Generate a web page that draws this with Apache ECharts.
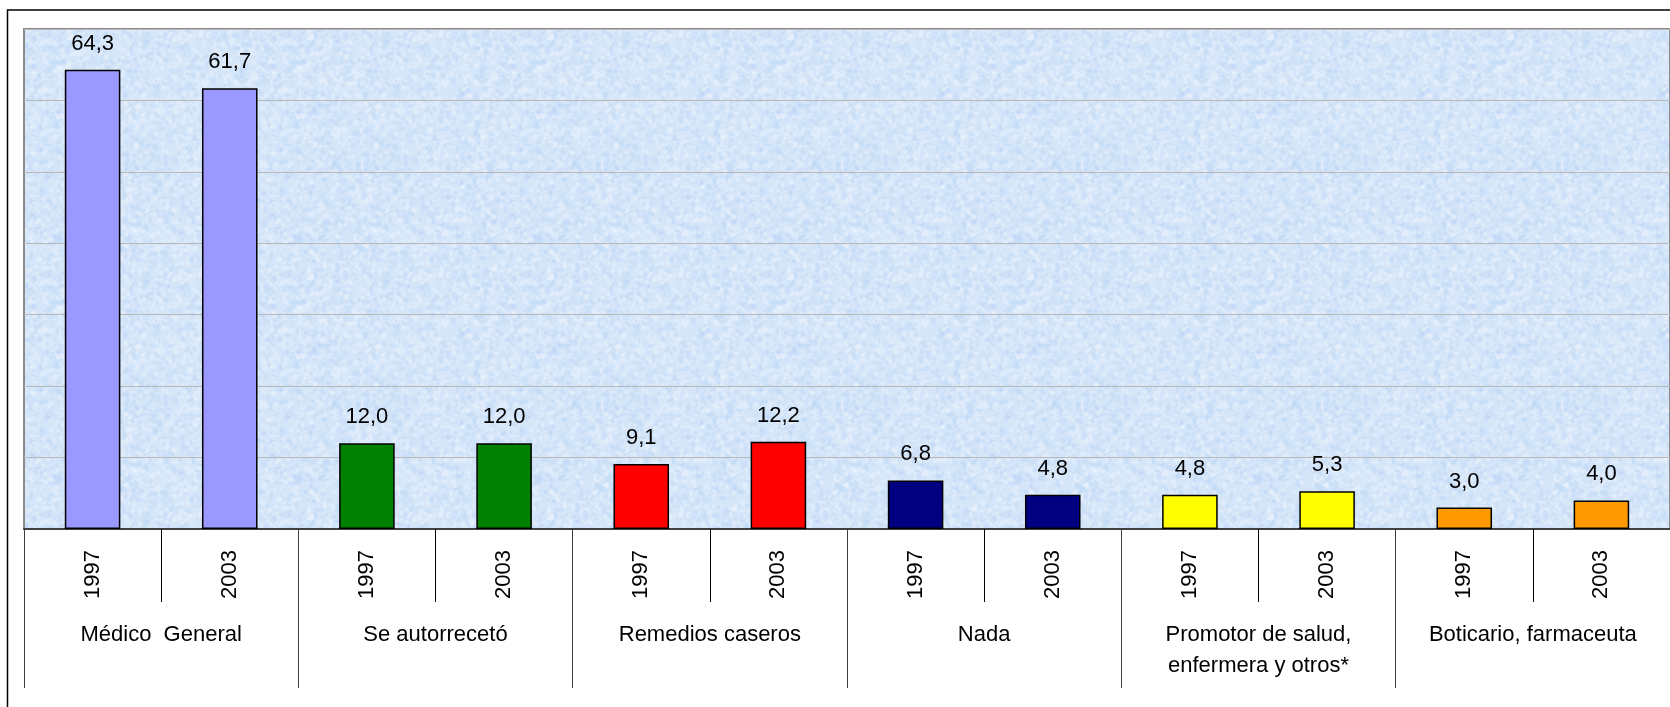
<!DOCTYPE html>
<html>
<head>
<meta charset="utf-8">
<script src="https://cdn.jsdelivr.net/npm/echarts@6/dist/echarts.min.js"></script>
<style>
    html,body{
        margin: 0;
        padding: 0;
        background: #fff;
    }
    #chart{
        width: 1670px;
        height: 707px;
    }
</style>
</head>
<body>
<div id="chart"></div>
<script>
// categorias y años
var groups = ['Médico  General', 'Se autorrecetó', 'Remedios caseros', 'Nada', 'Promotor de salud,\nenfermera y otros*', 'Boticario, farmaceuta']
var years = ['1997', '2003']
var values1997 = [64.3, 12.0, 9.1, 6.8, 4.8, 3.0]
var values2003 = [61.7, 12.0, 12.2, 4.8, 5.3, 4.0]
var colors = ['#9999ff', '#008000', '#ff0000', '#000080', '#ffff00', '#ff9900']

var font = "'Liberation Sans', Arial, sans-serif"

var yearLabels = [], barData = []
groups.forEach(function(g, i){
    yearLabels.push(years[0], years[1])
    barData.push({ value: values1997[i], itemStyle: { color: colors[i] } })
    barData.push({ value: values2003[i], itemStyle: { color: colors[i] } })
})

// fondo tipo papel azul (solo decoracion)
function makeTexture(){
    var size = 240
    var c = document.createElement('canvas')
    c.width = size
    c.height = size
    var ctx = c.getContext('2d')
    ctx.fillStyle = '#d5e6f9'
    ctx.fillRect(0, 0, size, size)
    var seed = 4321
    var rnd = function(){
        seed = (seed * 1103515245 + 12345) % 2147483648
        return seed / 2147483648
    }
    for(var k = 0; k < 5000; k++){
        var x = rnd() * size, y = rnd() * size, r = 0.8 + rnd() * 2.2
        ctx.fillStyle = k % 2 === 0 ? 'rgba(190,215,245,0.35)' : 'rgba(238,243,252,0.35)'
        for(var dx = -size; dx <= size; dx += size){
            for(var dy = -size; dy <= size; dy += size){
                ctx.beginPath()
                ctx.arc(x + dx, y + dy, r, 0, Math.PI * 2)
                ctx.fill()
            }
        }
    }
    return c
}

var myChart = echarts.init(document.getElementById('chart'))
var option = {
    animation: false,
    grid: {
        left: 24,
        right: -14,
        top: 29,
        bottom: 178,
        show: true,
        backgroundColor: { image: makeTexture(), repeat: 'repeat' },
        borderColor: '#8a8a8a',
        borderWidth: 2
    },
    graphic: [{
        type: 'rect',
        shape: { x: 7.5, y: 10, width: 2000, height: 1000 },
        style: { fill: 'none', stroke: '#000', lineWidth: 1.5 },
        z: 100
    }],
    xAxis: [{
        type: 'category',
        data: yearLabels,
        position: 'bottom',
        axisLine: {
            show: true,
            lineStyle: { color: '#404040', width: 2 }
        },
        axisTick: {
            show: true,
            interval: 0,
            length: 73,
            lineStyle: { color: '#000', width: 1 }
        },
        axisLabel: {
            interval: 0,
            rotate: 90,
            margin: 21,
            fontSize: 22,
            fontFamily: font,
            color: '#000'
        }
    }, {
        type: 'category',
        data: groups,
        position: 'bottom',
        axisLine: { show: false },
        axisTick: {
            show: true,
            interval: 0,
            length: 159,
            lineStyle: { color: '#404040', width: 1 }
        },
        axisLabel: {
            interval: 0,
            margin: 90,
            fontSize: 22,
            lineHeight: 31,
            fontFamily: font,
            color: '#000'
        }
    }],
    yAxis: {
        type: 'value',
        min: 0,
        max: 70,
        interval: 10,
        axisLabel: { show: false },
        axisLine: { show: false },
        axisTick: { show: false },
        splitLine: {
            show: true,
            lineStyle: { color: '#b8b8b8', width: 1 }
        }
    },
    series: [{
        type: 'bar',
        xAxisIndex: 0,
        data: barData,
        barWidth: '40.5%',
        itemStyle: {
            borderColor: '#000',
            borderWidth: 1.5
        },
        label: {
            show: true,
            position: 'top',
            distance: 15,
            fontSize: 22,
            fontFamily: font,
            color: '#000',
            formatter: function(p){
                return p.value.toFixed(1).replace('.', ',')
            }
        }
    }]
}
myChart.setOption(option)
</script>
</body>
</html>
